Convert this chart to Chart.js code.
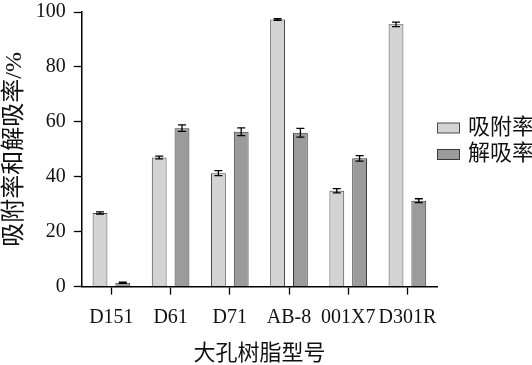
<!DOCTYPE html>
<html>
<head>
<meta charset="utf-8">
<script src="https://cdn.jsdelivr.net/npm/chart.js@4"></script>
<style>
  html, body { margin: 0; padding: 0; background: #fff; }
  #wrap { width: 532px; height: 365px; }
</style>
</head>
<body>
<div id="wrap"><canvas id="chart" width="532" height="365"></canvas></div>
<script>
// 数据
const resins = ["D151", "D61", "D71", "AB-8", "001X7", "D301R"];
const adsorption = [26.8, 47.0, 41.3, 97.3, 34.9, 95.5];
const adsorptionErr = [0.4, 0.5, 0.9, 0.3, 0.8, 0.8];
const desorption = [1.4, 57.7, 56.4, 56.0, 46.7, 31.3];
const desorptionErr = [0.2, 1.2, 1.4, 1.6, 1.0, 0.7];
const yTicks = [0, 20, 40, 60, 80, 100];

const serif = "'Liberation Serif', 'Noto Sans CJK SC', serif";

// 误差线插件
const errorBars = {
    id: "errorBars",
    afterDatasetsDraw(chart) {
        const ctx = chart.ctx;
        const yScale = chart.scales.y;
        ctx.save();
        ctx.strokeStyle = "#000";
        ctx.lineWidth = 1.3;
        chart.data.datasets.forEach((ds, i) => {
            const meta = chart.getDatasetMeta(i);
            meta.data.forEach((bar, j) => {
                const v = ds.data[j];
                const e = ds.errors[j];
                const yTop = yScale.getPixelForValue(v + e);
                const yBot = yScale.getPixelForValue(v - e);
                const cap = 4;
                ctx.beginPath();
                ctx.moveTo(bar.x, yTop);
                ctx.lineTo(bar.x, yBot);
                ctx.moveTo(bar.x - cap, yTop);
                ctx.lineTo(bar.x + cap, yTop);
                ctx.moveTo(bar.x - cap, yBot);
                ctx.lineTo(bar.x + cap, yBot);
                ctx.stroke();
            });
        });
        ctx.restore();
    }
};

// 右侧图例
const sideLegend = {
    id: "sideLegend",
    afterDraw(chart) {
        const ctx = chart.ctx;
        const x0 = chart.chartArea.right;
        ctx.save();
        ctx.font = "22px " + serif;
        ctx.textBaseline = "middle";
        chart.data.datasets.forEach((ds, i) => {
            const cy = 128 + i * 26.5;
            ctx.fillStyle = ds.backgroundColor;
            ctx.strokeStyle = ds.borderColor;
            ctx.lineWidth = 1;
            ctx.fillRect(x0 + 0.5, cy - 5, 22, 10);
            ctx.strokeRect(x0 + 0.5, cy - 5, 22, 10);
            ctx.fillStyle = "#111";
            ctx.fillText(ds.label, x0 + 31, cy);
        });
        ctx.restore();
    }
};

new Chart(document.getElementById("chart"), {
    type: "bar",
    data: {
        labels: resins,
        datasets: [
            {
                label: "吸附率",
                data: adsorption,
                errors: adsorptionErr,
                backgroundColor: "#d3d3d3",
                borderColor: "#4a4a4a",
                borderWidth: 1
            },
            {
                label: "解吸率",
                data: desorption,
                errors: desorptionErr,
                backgroundColor: "#9b9b9b",
                borderColor: "#3a3a3a",
                borderWidth: 1
            }
        ]
    },
    options: {
        responsive: false,
        animation: false,
        devicePixelRatio: 1,
        categoryPercentage: 0.77,
        barPercentage: 0.65,
        layout: { padding: { top: 0, right: 95, left: 0, bottom: -2 } },
        plugins: {
            legend: { display: false },
            tooltip: { enabled: false }
        },
        scales: {
            x: {
                grid: { offset: false, drawOnChartArea: false, tickLength: 8, color: "#000", tickWidth: 1.3 },
                border: { color: "#000", width: 1.5 },
                ticks: { color: "#111", font: { family: serif, size: 20 }, padding: 11, maxRotation: 0, autoSkip: false },
                title: { display: true, text: "大孔树脂型号", color: "#111", font: { family: serif, size: 22 }, padding: { top: 0, bottom: 0 } }
            },
            y: {
                min: 0,
                max: 100,
                afterBuildTicks: (axis) => { axis.ticks = yTicks.map((v) => ({ value: v })); },
                afterFit: (axis) => { axis.paddingTop = 12; },
                grid: { drawOnChartArea: false, tickLength: 8, color: "#000", tickWidth: 1.3 },
                border: { color: "#000", width: 1.5 },
                ticks: { color: "#111", font: { family: serif, size: 20 }, padding: 8 },
                title: { display: true, text: "吸附率和解吸率/%", color: "#111", font: { family: serif, size: 24 }, padding: { top: 0, bottom: -1 } }
            }
        }
    },
    plugins: [errorBars, sideLegend]
});
</script>
</body>
</html>
